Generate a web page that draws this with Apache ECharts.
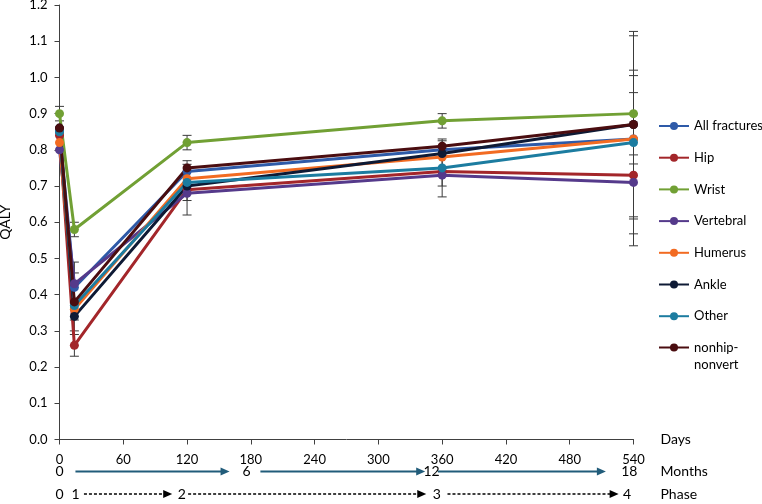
<!DOCTYPE html>
<html><head><meta charset="utf-8">
<script src="https://cdn.jsdelivr.net/npm/echarts@6/dist/echarts.min.js"></script>
<style>html,body{margin:0;padding:0;background:#fff}#c{width:762px;height:504px}</style>
</head><body><div id="c"></div>
<script>
// ---- data ----
const days = [0, 14, 120, 360, 540];
const seriesNames = ['All fractures', 'Hip', 'Wrist', 'Vertebral', 'Humerus', 'Ankle', 'Other', 'nonhip-nonvert'];
const allFractures = [0.85, 0.42, 0.74, 0.80, 0.83];
const hip          = [0.84, 0.26, 0.69, 0.74, 0.73];
const wrist        = [0.90, 0.58, 0.82, 0.88, 0.90];
const vertebral    = [0.80, 0.43, 0.68, 0.73, 0.71];
const humerus      = [0.82, 0.36, 0.72, 0.78, 0.83];
const ankle        = [0.86, 0.34, 0.70, 0.79, 0.87];
const other        = [0.85, 0.37, 0.71, 0.75, 0.82];
const nonhipNonvert= [0.86, 0.38, 0.75, 0.81, 0.87];
const seriesValues = [allFractures, hip, wrist, vertebral, humerus, ankle, other, nonhipNonvert];
const seriesColors = ['#2E5AA8', '#A3262A', '#71A034', '#553A8B', '#F26B22', '#0E1A35', '#1C7CA0', '#4A0D10'];

// error bars (day, low, high)
const errDays = [0, 14, 14, 14, 14, 120, 120, 120, 360, 360, 360, 540, 540, 540, 540, 540, 540];
const errLow  = [0.88, 0.56, 0.23, 0.33, 0.30, 0.80, 0.62, 0.66, 0.86, 0.67, 0.70, 0.535, 0.568, 0.615, 0.609, 0.786, 0.761];
const errHigh = [0.92, 0.60, 0.29, 0.49, 0.46, 0.84, 0.77, 0.76, 0.90, 0.83, 0.825, 1.127, 1.115, 1.02, 1.005, 0.958, 0.90];

// secondary scales (positions in days)
const monthLabels = ['0', '6', '12', '18'];
const monthLabelDays = [0, 176, 350, 536];
const phaseLabels = ['0', '1', '2', '3', '4'];
const phaseLabelDays = [0, 15, 115, 355, 534];
const monthArrowStart = [15, 189, 356];
const monthArrowEnd   = [160, 344, 514];
const phaseArrowStart = [23, 121, 365];
const phaseArrowEnd   = [106, 345, 526];

// ---- chart ----
const FONT = 'Lato';
const chart = echarts.init(document.getElementById('c'), null, {renderer: 'canvas'});

const lineSeries = seriesNames.map((name, i) => ({
  name, type: 'line', z: 3,
  data: days.map((d, j) => [d, seriesValues[i][j]]),
  symbol: 'circle', symbolSize: 9, showSymbol: true,
  lineStyle: {width: 3, color: seriesColors[i]},
  itemStyle: {color: seriesColors[i]},
  emphasis: {disabled: true}
}));

function arrowSeries(starts, ends, rowOffset, color, dashed) {
  return {
    type: 'custom', clip: false, silent: true, z: 5,
    data: starts.map((s, i) => [s, ends[i], 0]),
    encode: {x: [0, 1], y: 2},
    renderItem(params, api) {
      const p1 = api.coord([api.value(0), 0]);
      const p2 = api.coord([api.value(1), 0]);
      const y = p1[1] + rowOffset;
      const hl = 9, hw = 4;
      return {type: 'group', children: [
        {type: 'line', shape: {x1: p1[0], y1: y, x2: p2[0] - hl + 1, y2: y},
         style: {stroke: color, lineWidth: dashed ? 1.5 : 2, lineDash: dashed ? [3, 2] : null}},
        {type: 'polygon', shape: {points: [[p2[0] - hl, y - hw], [p2[0], y], [p2[0] - hl, y + hw]]},
         style: {fill: color}}
      ]};
    }
  };
}

const errorSeries = {
  type: 'custom', z: 2, silent: true,
  data: errDays.map((d, i) => [d, errLow[i], errHigh[i]]),
  encode: {x: 0, y: [1, 2]},
  renderItem(params, api) {
    const lo = api.coord([api.value(0), api.value(1)]);
    const hi = api.coord([api.value(0), api.value(2)]);
    const hw = 4.5, st = {stroke: '#3a3a3a', lineWidth: 1};
    return {type: 'group', children: [
      {type: 'line', shape: {x1: lo[0], y1: lo[1], x2: hi[0], y2: hi[1]}, style: st},
      {type: 'line', shape: {x1: lo[0] - hw, y1: lo[1], x2: lo[0] + hw, y2: lo[1]}, style: st},
      {type: 'line', shape: {x1: hi[0] - hw, y1: hi[1], x2: hi[0] + hw, y2: hi[1]}, style: st}
    ]};
  }
};

const axisText = {color: '#000', fontFamily: FONT, fontSize: 13};

chart.setOption({
  animation: false,
  textStyle: {fontFamily: FONT},
  grid: {left: 59.5, right: 128.5, top: 5, bottom: 64.5, containLabel: false, outerBoundsMode: 'none'},
  xAxis: [
    {type: 'value', min: 0, max: 540, interval: 60,
     axisLine: {lineStyle: {color: '#404040', width: 1}},
     axisTick: {show: true, length: 5, lineStyle: {color: '#404040'}},
     axisLabel: Object.assign({margin: 14}, axisText),
     splitLine: {show: false},
     name: 'Days', nameLocation: 'end', nameGap: 27,
     nameTextStyle: Object.assign({}, axisText, {fontSize: 14})},
    {type: 'value', min: 0, max: 540, position: 'bottom', offset: 32,
     axisLine: {show: false}, axisTick: {show: false}, splitLine: {show: false},
     axisLabel: Object.assign({customValues: monthLabelDays, margin: 0, verticalAlign: 'middle',
       formatter: v => monthLabels[monthLabelDays.indexOf(v)]}, axisText, {fontSize: 14}),
     name: 'Months', nameLocation: 'end', nameGap: 27,
     nameTextStyle: Object.assign({}, axisText, {fontSize: 14})},
    {type: 'value', min: 0, max: 540, position: 'bottom', offset: 54.5,
     axisLine: {show: false}, axisTick: {show: false}, splitLine: {show: false},
     axisLabel: Object.assign({customValues: phaseLabelDays, margin: 0, verticalAlign: 'middle',
       formatter: v => phaseLabels[phaseLabelDays.indexOf(v)]}, axisText, {fontSize: 14}),
     name: 'Phase', nameLocation: 'end', nameGap: 27,
     nameTextStyle: Object.assign({}, axisText, {fontSize: 14})}
  ],
  yAxis: {
    type: 'value', min: 0, max: 1.2, interval: 0.1,
    axisLine: {show: true, lineStyle: {color: '#404040', width: 1}},
    axisTick: {show: true, length: 5, lineStyle: {color: '#404040'}},
    axisLabel: Object.assign({margin: 12, formatter: v => v.toFixed(1)}, axisText),
    splitLine: {show: false},
    name: 'QALY', nameLocation: 'middle', nameGap: 47, nameRotate: 90,
    nameTextStyle: Object.assign({}, axisText, {fontSize: 14})
  },
  legend: [
    {data: seriesNames.slice(0, 7), orient: 'vertical', left: 658, top: 118, padding: 0,
     itemWidth: 30, itemHeight: 10, itemGap: 15.7, selectedMode: false,
     textStyle: Object.assign({}, axisText, {lineHeight: 16})},
    {data: ['nonhip-nonvert'], orient: 'vertical', left: 658, top: 341, padding: 0,
     itemWidth: 30, itemHeight: 10, selectedMode: false,
     formatter: () => '{a|nonhip-}\n{b|nonvert}',
     textStyle: Object.assign({}, axisText, {
       rich: {
         a: Object.assign({}, axisText, {lineHeight: 34}),
         b: Object.assign({}, axisText, {lineHeight: 0})
       }
     })}
  ],
  series: [errorSeries].concat(lineSeries, [
    arrowSeries(monthArrowStart, monthArrowEnd, 32, '#215C7A', false),
    arrowSeries(phaseArrowStart, phaseArrowEnd, 54.5, '#000000', true)
  ])
});
</script>
</body></html>
